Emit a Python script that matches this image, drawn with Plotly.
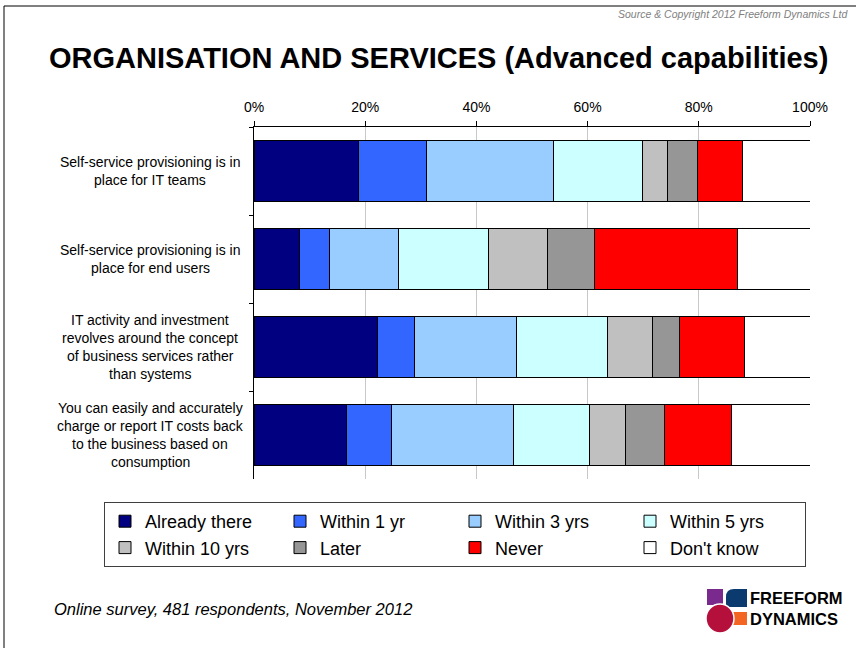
import plotly.graph_objects as go

# ---------------- data ----------------
categories = [
    "Self-service provisioning is in<br>place for IT teams",
    "Self-service provisioning is in<br>place for end users",
    "IT activity and investment<br>revolves around the concept<br>of business services rather<br>than systems",
    "You can easily and accurately<br>charge or report IT costs back<br>to the business based on<br>consumption",
]
series_names = ["Already there", "Within 1 yr", "Within 3 yrs", "Within 5 yrs",
                "Within 10 yrs", "Later", "Never", "Don't know"]
already_there = [18.8, 8.2, 22.3, 16.6]
within_1yr = [12.2, 5.4, 6.6, 8.1]
within_3yrs = [22.9, 12.4, 18.3, 22.0]
within_5yrs = [16.0, 16.1, 16.3, 13.7]
within_10yrs = [4.4, 10.7, 8.1, 6.5]
later = [5.4, 8.5, 5.0, 6.9]
never = [8.2, 25.6, 11.6, 12.0]
dont_know = [12.1, 13.1, 11.8, 14.2]
series_values = [already_there, within_1yr, within_3yrs, within_5yrs,
                 within_10yrs, later, never, dont_know]
colors = ["#000080", "#3366FF", "#99CCFF", "#CCFFFF",
          "#C0C0C0", "#969696", "#FF0000", "#FFFFFF"]
x_tick_values = [0, 20, 40, 60, 80, 100]
x_tick_labels = ["0%", "20%", "40%", "60%", "80%", "100%"]

FONT = "Liberation Sans, Arial, sans-serif"
W, H = 856, 648
L, R, T, B = 254, 46, 127, 169
PW, PH = W - L - R, H - T - B


def PX(x):
    return (x - L) / PW


def PY(y):
    return (H - B - y) / PH


fig = go.Figure()
for name, vals, col in zip(series_names, series_values, colors):
    fig.add_trace(go.Bar(
        y=categories, x=vals, name=name, orientation="h",
        marker=dict(color=col, line=dict(color="#000000", width=1)),
        width=0.7,
    ))

annotations = []
# category labels, one annotation per line for Excel-like line spacing
for cat in categories:
    lines = cat.split("<br>")
    n = len(lines)
    for i, ln in enumerate(lines):
        annotations.append(dict(
            x=PX(150), xref="paper", y=cat, yref="y", text=ln, showarrow=False,
            xanchor="center", yanchor="middle", yshift=((n - 1) / 2 - i) * 18,
            font=dict(family=FONT, size=14, color="#000000"),
        ))

# title
annotations.append(dict(
    x=PX(438), y=PY(58), xref="paper", yref="paper", showarrow=False,
    text="<b>ORGANISATION AND SERVICES (Advanced capabilities)</b>",
    xanchor="center", yanchor="middle",
    font=dict(family=FONT, size=29, color="#000000")))
# source
annotations.append(dict(
    x=PX(851), y=PY(14), xref="paper", yref="paper", showarrow=False,
    text="<i>Source & Copyright 2012 Freeform Dynamics Ltd</i>",
    xanchor="right", yanchor="middle",
    font=dict(family=FONT, size=10.5, color="#808080")))
# footer
annotations.append(dict(
    x=PX(52), y=PY(609), xref="paper", yref="paper", showarrow=False,
    text="<i>Online survey, 481 respondents, November 2012</i>",
    xanchor="left", yanchor="middle",
    font=dict(family=FONT, size=16.5, color="#000000")))
# logo text
for txt, yy in [("FREEFORM", 598), ("DYNAMICS", 619)]:
    annotations.append(dict(
        x=PX(748), y=PY(yy), xref="paper", yref="paper", showarrow=False,
        text="<b>" + txt + "</b>", xanchor="left", yanchor="middle",
        font=dict(family=FONT, size=16.5, color="#000000")))

shapes = [
    # outer frame
    dict(type="rect", xref="paper", yref="paper", x0=PX(4), x1=PX(900),
         y0=PY(6), y1=PY(700), line=dict(color="#000000", width=1), layer="below"),
    # logo blocks
    dict(type="rect", xref="paper", yref="paper", x0=PX(707), x1=PX(723),
         y0=PY(589), y1=PY(605), fillcolor="#7A2A8C", line=dict(width=0)),
    dict(type="path", xref="paper", yref="paper",
         path=f"M {PX(734)},{PY(589)} L {PX(747)},{PY(589)} L {PX(747)},{PY(607)} "
              f"L {PX(726)},{PY(607)} L {PX(726)},{PY(597)} Q {PX(726)},{PY(589)} {PX(734)},{PY(589)} Z",
         fillcolor="#0B3A6E", line=dict(width=0)),
    dict(type="rect", xref="paper", yref="paper", x0=PX(733), x1=PX(747),
         y0=PY(612), y1=PY(625), fillcolor="#F26522", line=dict(width=0)),
    dict(type="circle", xref="paper", yref="paper", x0=PX(706), x1=PX(734),
         y0=PY(604), y1=PY(633), fillcolor="#B5103C",
         line=dict(color="#FFFFFF", width=1.5)),
]

fig.update_layout(
    width=W, height=H,
    margin=dict(l=L, r=R, t=T, b=B, pad=0),
    paper_bgcolor="#FFFFFF", plot_bgcolor="#FFFFFF",
    barmode="stack", bargap=0.3,
    font=dict(family=FONT, size=14, color="#000000"),
    xaxis=dict(side="top", range=[0, 100], tickvals=x_tick_values, ticktext=x_tick_labels,
               showgrid=True, gridcolor="#C8C8C8", gridwidth=1, zeroline=False,
               showline=True, linecolor="#000000", linewidth=1,
               ticks="outside", ticklen=5, tickcolor="#000000", ticklabelstandoff=3,
               tickfont=dict(family=FONT, size=14, color="#000000")),
    yaxis=dict(categoryorder="array", categoryarray=categories, autorange="reversed",
               showticklabels=False, showgrid=False, zeroline=False,
               showline=True, linecolor="#000000", linewidth=1,
               ticks="outside", ticklen=4, tickson="boundaries", tickcolor="#000000"),
    showlegend=True,
    legend=dict(orientation="h", x=PX(104), y=PY(502), xanchor="left", yanchor="top",
                bgcolor="#FFFFFF", bordercolor="#404040", borderwidth=1,
                entrywidth=130, traceorder="normal",
                font=dict(family=FONT, size=18, color="#000000")),
    annotations=annotations,
    shapes=shapes,
)

fig.write_html("out.html")
